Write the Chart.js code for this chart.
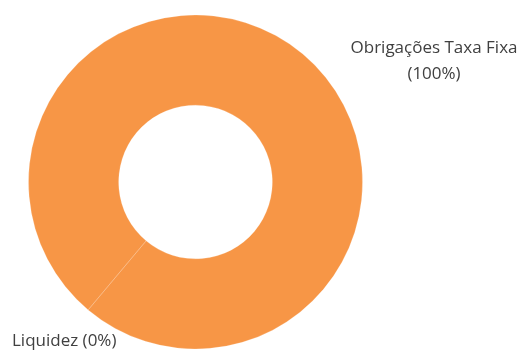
<!DOCTYPE html>
<html>
<head>
<meta charset="utf-8">
<script src="https://cdn.jsdelivr.net/npm/chart.js@4/dist/chart.umd.min.js"></script>
<style>
  html, body { margin: 0; padding: 0; background: #fff; }
  #wrap { width: 528px; height: 351px; }
</style>
</head>
<body>
<div id="wrap"><canvas id="myChart" width="528" height="351"></canvas></div>
<script>
const categories = ["Obrigações Taxa Fixa", "Liquidez"];
const shares = [100, 0];
const shareLabels = ["(100%)", "(0%)"];

const sliceColor = "#F79646";

// labels drawn next to the ring, Excel style
const labelPlugin = {
  id: "sliceLabels",
  afterDraw(chart) {
    const ctx = chart.ctx;
    ctx.save();
    ctx.font = "17px 'Open Sans'";
    ctx.fillStyle = "#404040";
    ctx.textBaseline = "middle";

    ctx.textAlign = "center";
    ctx.fillText(categories[0], 434, 48);
    ctx.fillText(shareLabels[0], 434, 74);

    ctx.textAlign = "left";
    ctx.fillText(categories[1] + " " + shareLabels[1], 12, 341);
    ctx.restore();
  },
};

const myChart = new Chart(document.getElementById("myChart").getContext("2d"), {
  type: "doughnut",
  data: {
    labels: categories,
    datasets: [
      {
        data: shares,
        backgroundColor: [sliceColor, sliceColor],
        borderColor: "rgba(255,255,255,0.2)",
        borderWidth: 1,
      },
    ],
  },
  options: {
    responsive: false,
    animation: false,
    rotation: 220,
    cutout: "46%",
    layout: {
      padding: { left: 28, top: 14, right: 165, bottom: 1 },
    },
    plugins: {
      legend: { display: false },
      tooltip: { enabled: false },
    },
  },
  plugins: [labelPlugin],
});
</script>
</body>
</html>
